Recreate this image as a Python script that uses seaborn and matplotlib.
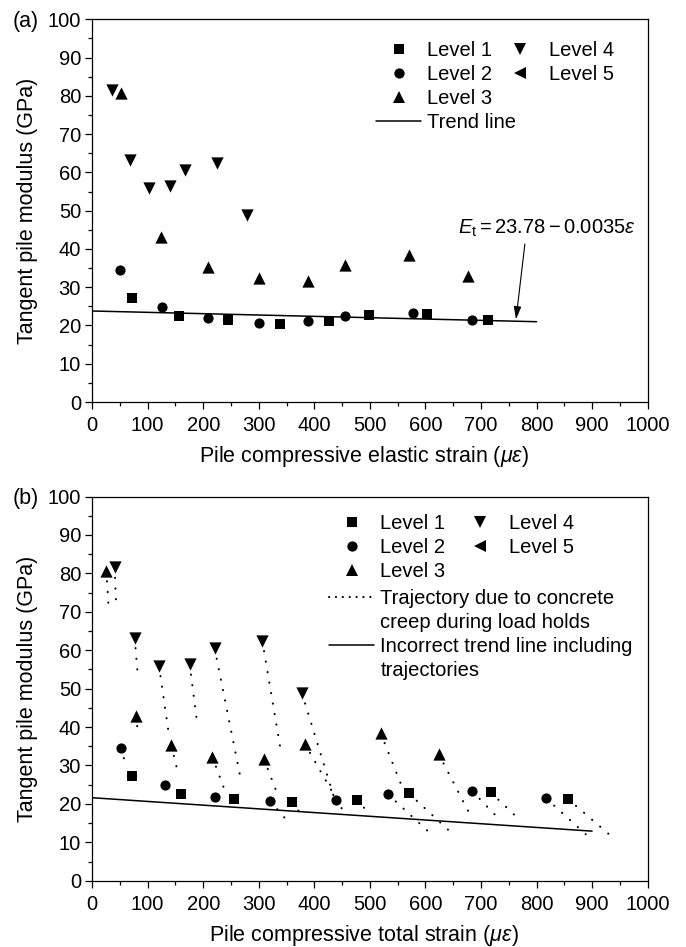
import numpy as np
import pandas as pd
import matplotlib
matplotlib.use("Agg")
import matplotlib.pyplot as plt
from matplotlib.lines import Line2D
from matplotlib.ticker import MultipleLocator
import seaborn as sns

# ---------------- data ----------------
levels = ["Level 1", "Level 2", "Level 3", "Level 4", "Level 5"]

# tangent modulus (GPa) per level (same in both panels)
mod_l1 = [27.3, 22.6, 21.3, 20.5, 21.1, 22.7, 23.0, 21.3]
mod_l2 = [34.6, 24.9, 21.9, 20.7, 21.1, 22.5, 23.3, 21.4]
mod_l3 = [80.7, 43.0, 35.2, 32.3, 31.7, 35.7, 38.4, 33.0]
mod_l4 = [81.6, 63.3, 56.0, 56.4, 60.5, 62.5, 48.8]

# panel (a): elastic strain (micro-strain)
ela_l1 = [71, 156, 244.5, 337.5, 426.7, 497.6, 603, 712]
ela_l2 = [51, 125, 208, 300, 388, 456, 577, 684.5]
ela_l3 = [52, 124.8, 208, 300, 388, 456, 570, 677]
ela_l4 = [36.6, 68, 102.7, 140, 168, 225.6, 278]

# panel (b): total strain (micro-strain)
tot_l1 = [72, 160.5, 254.7, 359.7, 476.7, 570.3, 717.4, 856.5]
tot_l2 = [52.5, 130.5, 220.5, 320.7, 438.3, 532.5, 684.2, 817.6]
tot_l3 = [25.5, 78.3, 142.5, 216.3, 309.3, 382.5, 519.4, 623.8]
tot_l4 = [40.5, 76.5, 120.3, 175.5, 220.5, 306.3, 377.7]

# trend lines (end points)
trend_a_x = [0, 800]
trend_a_y = [23.78, 20.98]
trend_b_x = [0, 900]
trend_b_y = [21.6, 12.9]

# creep trajectories in panel (b): start -> end
traj_x0 = [25.5, 40.5, 76.5, 78.3, 52.5, 120.3, 142.5, 175.5, 220.5, 216.3, 306.3, 309.3,
           320.7, 359.7, 377.7, 382.5, 476.7, 519.4, 532.5, 570.3, 623.8, 684.2, 717.4, 817.6, 856.5]
traj_y0 = [80.7, 81.6, 63.3, 43.0, 34.6, 56.0, 35.2, 56.4, 60.5, 32.3, 62.5, 31.7,
           20.7, 20.5, 48.8, 35.7, 21.1, 38.4, 22.5, 22.7, 33.0, 23.3, 23.0, 21.4, 21.3]
traj_x1 = [30.3, 43.5, 82.5, 81.3, 57.3, 138.3, 152.7, 189.3, 266.8, 238.5, 340.0, 331.6,
           349.5, 379.5, 438.0, 451.0, 493.0, 556.6, 604.5, 640.5, 682.0, 732.3, 768.3, 888.4, 930.3]
traj_y1 = [69.7, 70.9, 52.9, 40.0, 31.8, 37.9, 29.2, 40.8, 27.0, 23.6, 33.5, 23.3,
           15.9, 16.6, 20.5, 18.4, 18.4, 24.9, 12.9, 13.3, 16.7, 16.1, 16.0, 12.1, 12.1]

# ---------------- style ----------------
sns.set_theme(style="ticks")
plt.rcParams.update({
    "font.family": ["Liberation Sans", "DejaVu Sans"],
    "mathtext.fontset": "custom",
    "mathtext.rm": "Liberation Sans",
    "mathtext.it": "Liberation Sans:italic",
    "mathtext.bf": "Liberation Sans:bold",
    "axes.edgecolor": "black",
    "axes.linewidth": 0.9,
    "axes.labelcolor": "black",
    "text.color": "black",
    "xtick.color": "black",
    "ytick.color": "black",
    "xtick.direction": "out",
    "ytick.direction": "out",
    "xtick.major.size": 5,
    "ytick.major.size": 5,
    "xtick.minor.size": 2.7,
    "ytick.minor.size": 2.7,
    "xtick.major.width": 0.9,
    "ytick.major.width": 0.9,
    "xtick.minor.width": 0.9,
    "ytick.minor.width": 0.9,
    "xtick.major.pad": 5.0,
    "ytick.major.pad": 3.0,
})

FS_TICK = 14.5
FS_LAB = 15.5
FS_LEG = 14.5

markers = {"Level 1": ("s", 46, 6.8), "Level 2": ("o", 54, 7.4),
           "Level 3": ("^", 78, 8.8), "Level 4": ("v", 78, 8.8), "Level 5": ("<", 78, 8.8)}

fig = plt.figure(figsize=(6.86, 9.47), dpi=100)
axA = fig.add_axes([0.1343, 0.5755, 0.8098, 0.4041])
axB = fig.add_axes([0.1343, 0.0700, 0.8098, 0.4057])


def draw_levels(ax, strains, moduli):
    for lv, xs, ys in zip(levels[:4], strains, moduli):
        m, s, _ = markers[lv]
        df = pd.DataFrame({"strain": xs, "modulus": ys})
        sns.scatterplot(data=df, x="strain", y="modulus", marker=m, s=s, color="black",
                        edgecolor="black", linewidth=0, ax=ax, legend=False, zorder=4,
                        clip_on=False)


def style_axes(ax, xlabel):
    ax.set_xlim(0, 1000)
    ax.set_ylim(0, 100)
    ax.xaxis.set_major_locator(MultipleLocator(100))
    ax.xaxis.set_minor_locator(MultipleLocator(50))
    ax.yaxis.set_major_locator(MultipleLocator(10))
    ax.yaxis.set_minor_locator(MultipleLocator(5))
    ax.tick_params(labelsize=FS_TICK, which="both", top=False, right=False)
    for sp in ax.spines.values():
        sp.set_visible(True)
        sp.set_color("black")
        sp.set_linewidth(0.9)
    ax.set_xlabel(xlabel, fontsize=FS_LAB, labelpad=6.5)
    ax.xaxis.set_label_coords(0.49, -0.045, transform=ax.transAxes) if False else None
    ax.set_ylabel("Tangent pile modulus (GPa)", fontsize=FS_LAB, labelpad=7)


def level_legend(ax, xa, ya, colsp):
    hs = []
    for lv in levels:
        m, _, ms = markers[lv]
        hs.append(Line2D([], [], ls="none", marker=m, color="black", markersize=ms,
                         markeredgewidth=0))
    hs.append(Line2D([], [], ls="none"))
    labs = levels + [""]
    leg = ax.legend(hs, labs, ncol=2, loc="upper left", bbox_to_anchor=(xa, ya),
                    bbox_transform=ax.transData, frameon=False, fontsize=FS_LEG,
                    handlelength=2.23, handletextpad=0.3, columnspacing=colsp,
                    labelspacing=0.25, borderpad=0, borderaxespad=0)
    ax.add_artist(leg)


DOT = (0, (0.1, 5.0))
DOT_LW = 1.5

# ---------------- panel (a) ----------------
draw_levels(axA, [ela_l1, ela_l2, ela_l3, ela_l4], [mod_l1, mod_l2, mod_l3, mod_l4])
sns.lineplot(x=trend_a_x, y=trend_a_y, ax=axA, color="black", lw=1.1, zorder=3)
style_axes(axA, r"Pile compressive elastic strain ($\mu\varepsilon$)")
level_legend(axA, 511.5, 94.4, 0.27)
axA.legend([Line2D([], [], color="black", lw=1.1)], ["Trend line"], loc="upper left",
           bbox_to_anchor=(511.5, 75.6), bbox_transform=axA.transData, frameon=False,
           fontsize=FS_LEG, handlelength=2.23, handletextpad=0.3, borderpad=0,
           borderaxespad=0)
axA.text(659, 45.3, r"$E_{\mathrm{t}}=23.78-0.0035\varepsilon$", fontsize=FS_LEG,
         ha="left", va="center")
axA.annotate("", xy=(763, 21.6), xytext=(779, 41.3),
             arrowprops=dict(arrowstyle="-|>,head_length=0.55,head_width=0.16",
                             color="black", lw=0.8, shrinkA=0, shrinkB=0, mutation_scale=14))

# ---------------- panel (b) ----------------
for x0, y0, x1, y1 in zip(traj_x0, traj_y0, traj_x1, traj_y1):
    axB.plot([x0, x1], [y0, y1], color="black", lw=DOT_LW, ls=DOT, dash_capstyle="round",
             zorder=2)
draw_levels(axB, [tot_l1, tot_l2, tot_l3, tot_l4], [mod_l1, mod_l2, mod_l3, mod_l4])
sns.lineplot(x=trend_b_x, y=trend_b_y, ax=axB, color="black", lw=1.1, zorder=3)
style_axes(axB, r"Pile compressive total strain ($\mu\varepsilon$)")
level_legend(axB, 427.2, 95.4, 0.6)
hB = [Line2D([], [], color="black", lw=DOT_LW, ls=(0, (0.1, 3.2)), dash_capstyle="round"),
      Line2D([], [], ls="none"),
      Line2D([], [], color="black", lw=1.1),
      Line2D([], [], ls="none")]
labB = ["Trajectory due to concrete", "creep during load holds",
        "Incorrect trend line including", "trajectories"]
axB.legend(hB, labB, loc="upper left", bbox_to_anchor=(427.2, 75.9),
           bbox_transform=axB.transData, frameon=False, fontsize=FS_LEG,
           handlelength=2.23, handletextpad=0.3, labelspacing=0.25, borderpad=0,
           borderaxespad=0)

for ax in (axA, axB):
    ax.xaxis.label.set_x(0.49)

fig.text(13 / 686, 1 - 21.5 / 947, "(a)", fontsize=FS_LAB, ha="left", va="center")
fig.text(13 / 686, 1 - 498.5 / 947, "(b)", fontsize=FS_LAB, ha="left", va="center")

fig.savefig("out.png", dpi=100)
